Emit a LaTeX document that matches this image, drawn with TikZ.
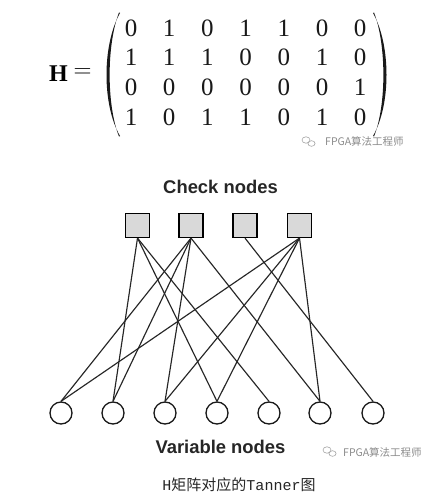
\documentclass[tikz,border=0pt]{standalone}
\usepackage{fontspec}
\setmainfont{Liberation Serif}
\newfontfamily\lsans{Liberation Sans}
\newfontfamily\cjk{Noto Sans CJK SC}
\newfontfamily\lmono{Liberation Mono}
\begin{document}
\begin{tikzpicture}[x=1pt,y=-1pt,
  chk/.style={draw=black,line width=1.2pt,fill=gray!30,minimum size=24pt,inner sep=0pt},
  var/.style={draw=black!90,line width=1.3pt,fill=white,circle,minimum size=22pt,inner sep=0pt},
  edge/.style={draw=black!85,line width=1.15pt},
  digit/.style={font=\fontsize{25}{25}\selectfont,inner sep=0pt,text=black!90},
  lbl/.style={font=\lsans\bfseries\fontsize{18.4}{18.4}\selectfont,text=black!85,inner sep=0pt},
  wm/.style={font=\cjk\fontsize{10.5}{10.5}\selectfont,text=black!45,inner sep=0pt,anchor=west}]
\useasboundingbox[fill=white] (0,0) rectangle (439,500);
% matrix
\node[inner sep=0pt,font=\bfseries\fontsize{24}{24}\selectfont] (hlab) at (58.5,74) {H};
\node[inner sep=0pt,font=\fontsize{24}{24}\selectfont] (eq) at (82.5,73) {$=$};
\foreach \r/\row in {1/{0,1,0,1,1,0,0},2/{1,1,1,0,0,1,0},3/{0,0,0,0,0,0,1},4/{1,0,1,1,0,1,0}}{
  \foreach \v [count=\c] in \row {
    \node[digit] (m\r\c) at ({131+38.2*(\c-1)},{28+29.7*(\r-1)}) {\v};
  }
}
\fill[black!90] (120,13) .. controls (102,45) and (102,105) .. (120,136)
  -- (119,136.5) .. controls (106.5,105) and (106.5,45) .. (119,12.5) -- cycle;
\fill[black!90] (373,13) .. controls (391,45) and (391,105) .. (373,136)
  -- (374,136.5) .. controls (386.5,105) and (386.5,45) .. (374,12.5) -- cycle;
% watermark 1
\draw[black!35,line width=0.6pt] (306,140) ellipse (4pt and 3.2pt);
\draw[black!35,line width=0.6pt] (311.5,143.5) ellipse (3.6pt and 2.8pt);
\node[wm] (wm1) at (325,141.5) {FPGA算法工程师};
% labels
\node[lbl] (chklab) at (220.5,187) {Check nodes};
\node[lbl] (varlab) at (220.5,447) {Variable nodes};
% check nodes
\foreach \i/\x in {1/137.5,2/191,3/245,4/299.5}{
  \node[chk] (c\i) at (\x,225.5) {};
}
% variable nodes
\foreach \i/\x in {1/61,2/113,3/165,4/217,5/269,6/320,7/373}{
  \node[var] (v\i) at (\x,413) {};
}
% edges
\foreach \c/\vs in {1/{2,4,5},2/{1,2,3,6},3/{7},4/{1,3,4,6}}{
  \foreach \v in \vs {
    \draw[edge] (c\c.south) -- (v\v.north);
  }
}
% watermark 2
\draw[black!35,line width=0.6pt] (327,450) ellipse (4pt and 3.2pt);
\draw[black!35,line width=0.6pt] (332.5,453.5) ellipse (3.6pt and 2.8pt);
\node[wm] (wm2) at (343,452) {FPGA算法工程师};
% caption
\node[inner sep=0pt,text=black!85,font=\fontsize{15}{15}\selectfont] (cap) at (239,485)
  {\lmono H\cjk 矩阵对应的\lmono Tanner\cjk 图};
\end{tikzpicture}
\end{document}
